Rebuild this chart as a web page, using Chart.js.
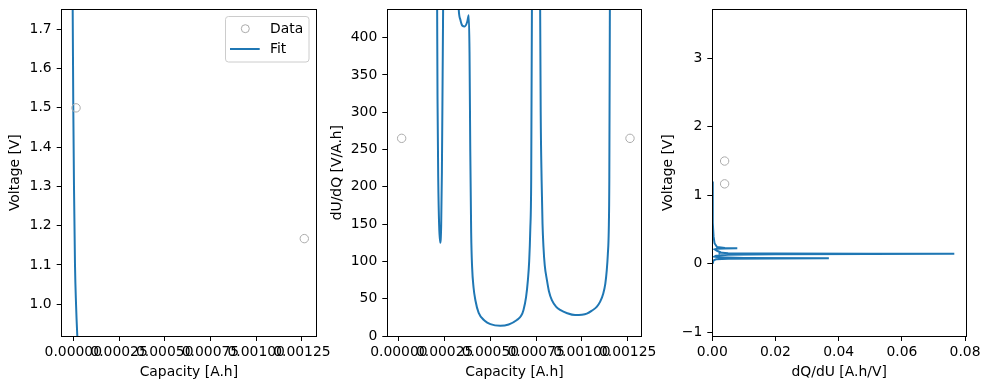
<!DOCTYPE html>
<html>
<head>
<meta charset="utf-8">
<script src="https://cdn.jsdelivr.net/npm/chart.js@4.4.1/dist/chart.umd.min.js"></script>
<style>
  html, body { margin: 0; padding: 0; background: #fff; }
  #wrap { position: relative; width: 989px; height: 389px; overflow: hidden; }
  canvas { position: absolute; top: 0; }
</style>
</head>
<body>
<div id="wrap">
  <canvas id="c1" width="330" height="389" style="left:0px"></canvas>
  <canvas id="c2" width="330" height="389" style="left:330px"></canvas>
  <canvas id="c3" width="329" height="389" style="left:660px"></canvas>
</div>
<script>
// measured data (circles)
const dataCap = [0.000015, 0.001263];
const dataVolt = [1.5, 1.167];
const dataDudq = [265, 265];
const dataDqdu = [0.0039, 0.0039];

// fit curve, panel 1
const fitCap = [-0.000006, -0.0000033, 0, 0.0000038, 0.0000093, 0.000015, 0.0000219, 0.00003];
const fitVolt = [1.9, 1.75, 1.5, 1.3, 1.1, 1.0, 0.919, 0.85];

// fit curve, panel 2
const fitCap2 = [0.000203, 0.000209, 0.000211, 0.000215, 0.00022, 0.000226, 0.000231, 0.000235, 0.000239,
  0.000242, 0.000246, 0.00028, 0.00031, 0.000327, 0.000336, 0.000347, 0.00036, 0.000373, 0.000382,
  0.000386, 0.00039, 0.000395, 0.0004, 0.000408, 0.000418, 0.000436, 0.000469, 0.0005, 0.000554, 0.0006,
  0.000645, 0.000668, 0.000681, 0.000695, 0.000705, 0.000712, 0.000718, 0.000723, 0.000727, 0.00073,
  0.00075, 0.000769, 0.000772, 0.000775, 0.00078, 0.000785, 0.00079, 0.000797, 0.000809, 0.00082,
  0.000836, 0.00086, 0.000881, 0.00092, 0.000963, 0.001, 0.001027, 0.001055, 0.001081, 0.0011,
  0.001117, 0.001128, 0.001136, 0.001142, 0.001147, 0.00115, 0.001153, 0.001156];
const fitDudq = [800, 438, 320, 210, 148, 125, 148, 220, 350,
  450, 620, 900, 560, 438, 424, 416, 415, 421, 430,
  380, 250, 138, 93, 65, 48, 31, 20.5, 16, 13.8, 15.5,
  21.5, 27, 35, 52, 75, 100, 142, 209, 438, 700,
  1500, 700, 438, 300, 209, 150, 120, 95, 75, 60,
  48, 39, 35, 30.5, 28, 28.5, 30, 34, 39, 46,
  57, 70, 88, 110, 142, 209, 438, 700];

// fit curve, panel 3 (dQ/dU against voltage)
const fitDqdu = [0.00005, 0.0001, 0.0002, 0.0004, 0.0007, 0.0015, 0.004, 0.0079, 0.004, 0.0015, 0.0008,
  0.0015, 0.0024, 0.0023, 0.005, 0.02, 0.05, 0.0766, 0.05, 0.02, 0.005, 0.0012, 0.0007, 0.002,
  0.01, 0.0369, 0.02, 0.005, 0.0012, 0.0004, 0.0001];
const fitVolt3 = [1.2, 0.9, 0.6, 0.4, 0.3, 0.245, 0.232, 0.228, 0.224, 0.218, 0.21,
  0.19, 0.172, 0.165, 0.155, 0.149, 0.147, 0.146, 0.144, 0.141, 0.132, 0.118, 0.105, 0.095,
  0.086, 0.08, 0.077, 0.072, 0.066, 0.05, 0.0];

// tick labels
const capTicks = [0, 0.00025, 0.0005, 0.00075, 0.001, 0.00125];
const voltTicks1 = [1.0, 1.1, 1.2, 1.3, 1.4, 1.5, 1.6, 1.7];
const dudqTicks = [0, 50, 100, 150, 200, 250, 300, 350, 400];
const dqduTicks = [0, 0.02, 0.04, 0.06, 0.08];
const voltTicks3 = [-1, 0, 1, 2, 3];

const FONT = { family: 'DejaVu Sans', size: 13.9 };
const BLUE = '#1f77b4';
const GREY = '#ababab';

const pts = (xs, ys) => xs.map((x, i) => ({ x: x, y: ys[i] }));

function axis(o) {
  return {
    type: 'linear',
    position: o.pos,
    min: o.min,
    max: o.max,
    title: { display: true, text: o.title, color: '#000', font: FONT, padding: o.titlePad },
    grid: { drawOnChartArea: false, drawTicks: true, tickLength: 5, tickColor: '#000', tickWidth: 1 },
    border: { display: true, color: '#000', width: 1 },
    ticks: {
      color: '#000', font: FONT, padding: o.tickPad,
      autoSkip: false, maxRotation: 0, minRotation: 0,
      callback: o.fmt
    },
    afterBuildTicks: s => { s.ticks = o.ticks.map(v => ({ value: v })); },
    afterFit: s => {
      if (o.pos === 'bottom') {
        s.height = o.size; s.paddingLeft = 0; s.paddingRight = 0;
      } else {
        s.width = o.size; s.paddingTop = 0; s.paddingBottom = 0;
      }
    }
  };
}

// black box around the plot area
const frame = {
  id: 'frame',
  afterDraw(chart) {
    const { ctx, chartArea: a } = chart;
    const al = v => Math.round(v - 0.5) + 0.5;
    ctx.save();
    ctx.strokeStyle = '#000';
    ctx.lineWidth = 1;
    ctx.strokeRect(al(a.left), al(a.top), al(a.right) - al(a.left), al(a.bottom) - al(a.top));
    ctx.restore();
  }
};

// matplotlib style legend for the first panel
const legendBox = {
  id: 'legendBox',
  afterDraw(chart) {
    const ctx = chart.ctx;
    ctx.save();
    ctx.beginPath();
    ctx.roundRect(225.5, 16.5, 83.5, 45.5, 3);
    ctx.fillStyle = 'rgba(255,255,255,0.8)';
    ctx.fill();
    ctx.strokeStyle = '#cccccc';
    ctx.lineWidth = 1;
    ctx.stroke();
    ctx.beginPath();
    ctx.arc(245.3, 28.7, 4, 0, Math.PI * 2);
    ctx.strokeStyle = GREY;
    ctx.stroke();
    ctx.beginPath();
    ctx.moveTo(230, 49);
    ctx.lineTo(259.7, 49);
    ctx.strokeStyle = BLUE;
    ctx.lineWidth = 2;
    ctx.stroke();
    ctx.fillStyle = '#000';
    ctx.font = '13.9px "DejaVu Sans"';
    ctx.textBaseline = 'middle';
    ctx.fillText('Data', 270, 29);
    ctx.fillText('Fit', 270, 49.5);
    ctx.restore();
  }
};

function panel(id, o) {
  return new Chart(document.getElementById(id), {
    type: 'scatter',
    data: {
      datasets: [{
        label: 'Data',
        data: pts(o.dx, o.dy),
        pointStyle: 'circle',
        pointRadius: 4.2,
        pointBackgroundColor: 'rgba(0,0,0,0)',
        pointBorderColor: GREY,
        pointBorderWidth: 1,
        showLine: false
      }, {
        label: 'Fit',
        data: pts(o.fx, o.fy),
        showLine: true,
        borderColor: BLUE,
        borderWidth: 2,
        pointRadius: 0,
        cubicInterpolationMode: o.mono ? 'monotone' : 'default',
        tension: 0
      }]
    },
    options: {
      responsive: false,
      animation: false,
      devicePixelRatio: 1,
      layout: { padding: { left: 0, top: 9.3, right: o.padRight, bottom: 0 } },
      plugins: { legend: { display: false }, tooltip: { enabled: false } },
      scales: {
        x: axis(o.x),
        y: axis(o.y)
      }
    },
    plugins: o.legend ? [frame, legendBox] : [frame]
  });
}

const xTitlePad = { bottom: 8.7 };

panel('c1', {
  dx: dataCap, dy: dataVolt, fx: fitCap, fy: fitVolt, padRight: 14, legend: true, mono: true,
  x: { pos: 'bottom', min: -0.0000634, max: 0.001327, title: 'Capacity [A.h]', titlePad: xTitlePad,
       tickPad: 3.5, size: 53, ticks: capTicks, fmt: v => v.toFixed(5) },
  y: { pos: 'left', min: 0.919, max: 1.751, title: 'Voltage [V]', titlePad: { top: 7 },
       tickPad: 5, size: 61.7, ticks: voltTicks1, fmt: v => v.toFixed(1) }
});

panel('c2', {
  dx: dataCap, dy: dataDudq, fx: fitCap2, fy: fitDudq, padRight: 18.3, mono: true,
  x: { pos: 'bottom', min: -0.0000634, max: 0.001327, title: 'Capacity [A.h]', titlePad: xTitlePad,
       tickPad: 3.5, size: 53, ticks: capTicks, fmt: v => v.toFixed(5) },
  y: { pos: 'left', min: 0, max: 438, title: 'dU/dQ [V/A.h]', titlePad: { top: -0.6 },
       tickPad: 5, size: 57.3, ticks: dudqTicks, fmt: v => String(v) }
});

panel('c3', {
  dx: dataDqdu, dy: dataVolt, fx: fitDqdu, fy: fitVolt3, padRight: 23,
  x: { pos: 'bottom', min: 0, max: 0.0803, title: 'dQ/dU [A.h/V]', titlePad: xTitlePad,
       tickPad: 3.5, size: 53, ticks: dqduTicks, fmt: v => v.toFixed(2) },
  y: { pos: 'left', min: -1.054, max: 3.715, title: 'Voltage [V]', titlePad: { top: -0.3 },
       tickPad: 5, size: 52.3, ticks: voltTicks3, fmt: v => (v < 0 ? '\u2212' + Math.abs(v) : String(v)) }
});
</script>
</body>
</html>
